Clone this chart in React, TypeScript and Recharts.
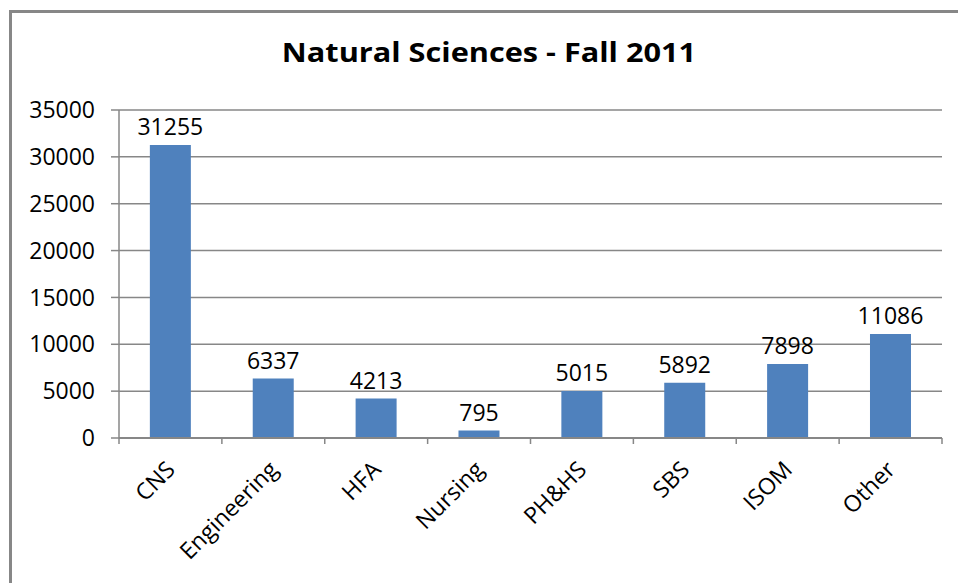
import React from 'react';
import { BarChart, Bar, XAxis, YAxis, CartesianGrid, LabelList } from 'recharts';

const categories = ['CNS', 'Engineering', 'HFA', 'Nursing', 'PH&HS', 'SBS', 'ISOM', 'Other'];
const counts = [31255, 6337, 4213, 795, 5015, 5892, 7898, 11086];
const yTicks = [0, 5000, 10000, 15000, 20000, 25000, 30000, 35000];

const data = categories.map((name, i) => ({ name, count: counts[i] }));

const W = 958;
const H = 583;
const X_AXIS_H = 145;
const MARGIN = { top: 110, right: 16, bottom: 0, left: 0 };
const Y_AXIS_W = 119;
const BAND = (W - MARGIN.right - Y_AXIS_W) / categories.length;

const FONT = '"Open Sans", sans-serif';
const GRID = '#878787';

function CategoryTick(props: any) {
  const { x, y, payload, index } = props;
  const left = x - BAND / 2;
  return (
    <g>
      <line x1={left} y1={y} x2={left} y2={y + 6} stroke={GRID} strokeWidth={1.5} />
      {index === categories.length - 1 && (
        <line x1={x + BAND / 2} y1={y} x2={x + BAND / 2} y2={y + 6} stroke={GRID} strokeWidth={1.5} />
      )}
      <text
        x={x + 6}
        y={y + 33}
        textAnchor="end"
        transform={`rotate(-45, ${x + 6}, ${y + 33})`}
        fontFamily={FONT}
        fontSize={23}
        fill="#000"
      >
        {payload.value}
      </text>
    </g>
  );
}

export default function App() {
  return (
    <div style={{ position: 'absolute', left: 0, top: 0, width: W, height: H, overflow: 'hidden', background: '#fff' }}>
      <div
        style={{
          position: 'absolute',
          left: 9,
          top: 10,
          width: 1000,
          height: 1000,
          border: `3px solid ${GRID}`,
        }}
      />
      <div
        style={{
          position: 'absolute',
          left: 0,
          top: 39,
          width: 978,
          textAlign: 'center',
          fontFamily: FONT,
          fontWeight: 700,
          fontSize: 26,
          lineHeight: '26px',
          color: '#000',
          transform: 'scaleX(1.18)',
          transformOrigin: '489px 0',
        }}
      >
        Natural Sciences - Fall 2011
      </div>
      <div style={{ position: 'absolute', left: 0, top: 0 }}>
        <BarChart width={W} height={H} data={data} margin={MARGIN} barCategoryGap="30%">
          <CartesianGrid vertical={false} stroke={GRID} strokeWidth={1.5} />
          <XAxis
            dataKey="name"
            axisLine={{ stroke: GRID, strokeWidth: 2 }}
            tickLine={false}
            tickSize={0}
            tickMargin={0}
            height={X_AXIS_H}
            interval={0}
            tick={<CategoryTick />}
          />
          <YAxis
            width={Y_AXIS_W}
            domain={[0, 35000]}
            ticks={yTicks}
            interval={0}
            axisLine={{ stroke: GRID, strokeWidth: 1.5 }}
            tickLine={{ stroke: GRID, strokeWidth: 1.5 }}
            tickSize={8}
            tickMargin={16}
            tick={{ fontFamily: FONT, fontSize: 23, fill: '#000' }}
          />
          <Bar dataKey="count" fill="#4F81BD" isAnimationActive={false}>
            <LabelList
              dataKey="count"
              position="top"
              offset={10}
              style={{ fontFamily: FONT, fontSize: 23, fill: '#000' }}
            />
          </Bar>
        </BarChart>
      </div>
    </div>
  );
}
